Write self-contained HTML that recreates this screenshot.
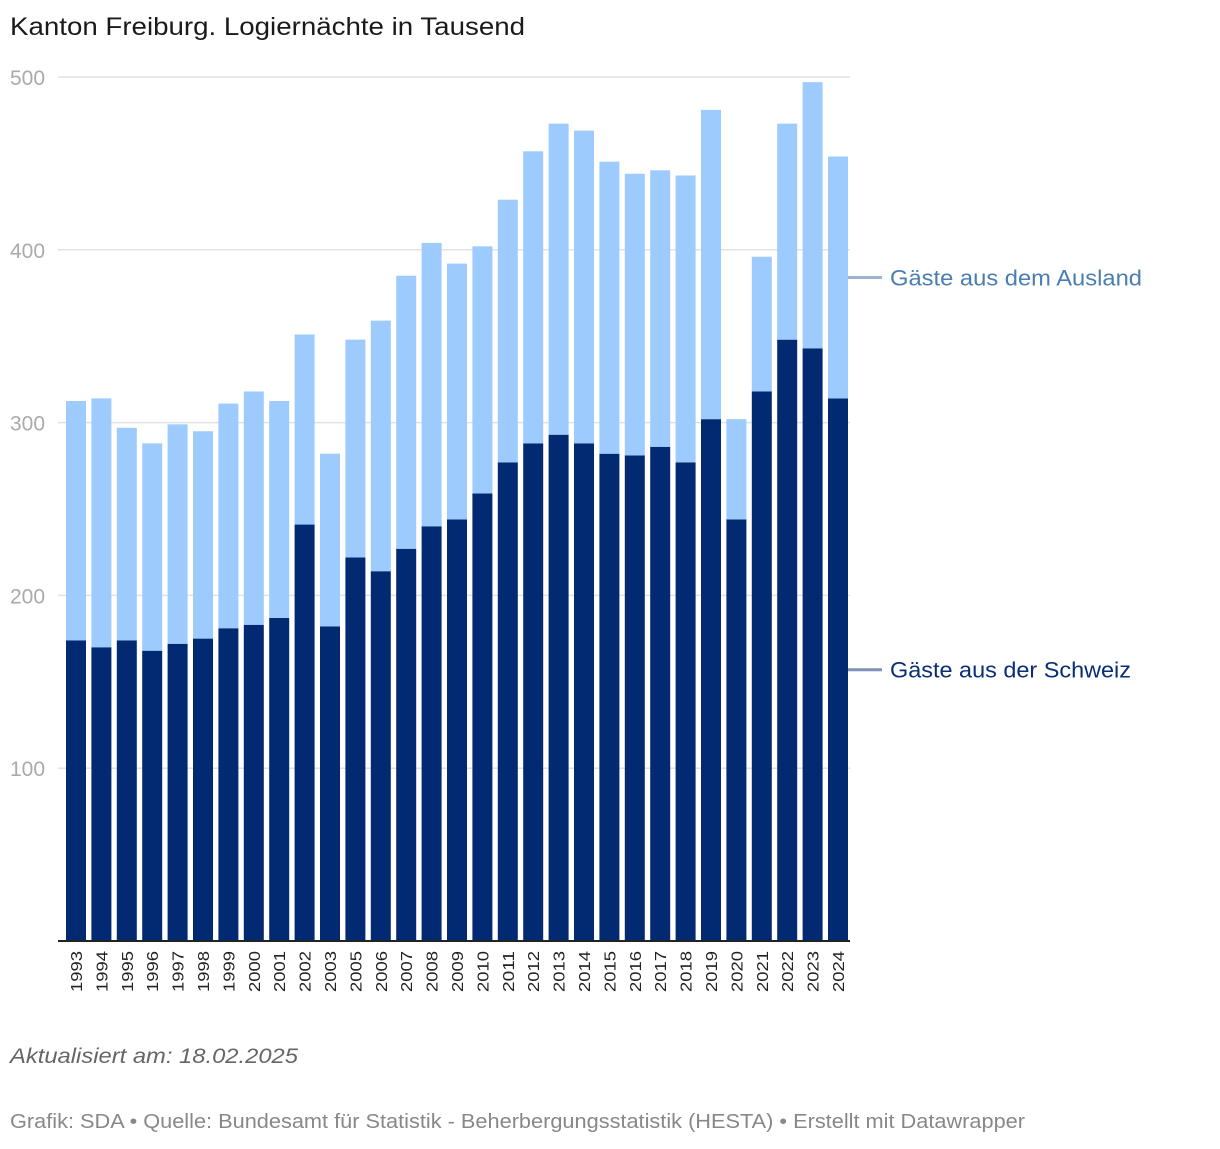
<!DOCTYPE html>
<html><head><meta charset="utf-8"><style>
body{margin:0;background:#fff;font-family:"Liberation Sans",sans-serif;}
svg text{font-family:"Liberation Sans",sans-serif;}
</style></head><body>
<svg id="c" width="1220" height="1144">
<text x="10" y="35" font-size="25" fill="#1a1a1a" textLength="515" lengthAdjust="spacingAndGlyphs">Kanton Freiburg. Logiernächte in Tausend</text>
<g id="grid"></g><g id="bars"></g><g id="xl"></g>
<text x="10" y="1063" font-size="21" font-style="italic" fill="#666" textLength="288" lengthAdjust="spacingAndGlyphs">Aktualisiert am: 18.02.2025</text>
<text x="10" y="1128" font-size="20" fill="#888" textLength="1015" lengthAdjust="spacingAndGlyphs">Grafik: SDA • Quelle: Bundesamt für Statistik - Beherbergungsstatistik (HESTA) • Erstellt mit Datawrapper</text>
</svg>
<script>
const years=["1993","1994","1995","1996","1997","1998","1999","2000","2001","2002","2003","2005","2006","2007","2008","2009","2010","2011","2012","2013","2014","2015","2016","2017","2018","2019","2020","2021","2022","2023","2024"];
const schweiz=[174,170,174,168,172,175,181,183,187,241,182,222,214,227,240,244,259,277,288,293,288,282,281,286,277,302,244,318,348,343,314];
const ausland=[138.5,144,123,120,127,120,130,135,125.5,110,100,126,145,158,164,148,143,152,169,180,181,169,163,160,166,179,58,78,125,154,140];
const yTicks=[100,200,300,400,500];
const svg=document.getElementById('c'),NS="http://www.w3.org/2000/svg";
const y=v=>941-v*1.728, x0=66, pitch=25.4, bw=20;
function mk(t,a,p){const e=document.createElementNS(NS,t);for(const k in a)e.setAttribute(k,a[k]);(p||svg).appendChild(e);return e;}
const G=document.getElementById('grid'),B=document.getElementById('bars'),XL=document.getElementById('xl');
yTicks.forEach(v=>{
 const l=mk('line',{x1:58,x2:850,y1:y(v),y2:y(v),stroke:'#e2e2e2','stroke-width':1.5},G);
 
 
 const t=mk('text',{x:10,y:y(v)+8,'font-size':21,fill:'#aaa'},G);t.textContent=v;
 
 
});
years.forEach((yr,i)=>{
 const x=x0+i*pitch;
 const r1=mk('rect',{x:x,y:y(schweiz[i]),width:bw,height:941-y(schweiz[i]),fill:'#022a72'},B);
 
 
 const tot=schweiz[i]+ausland[i];
 const r2=mk('rect',{x:x,y:y(tot),width:bw,height:y(schweiz[i])-y(tot),fill:'#9dcbfe'},B);
 
 
 const t=mk('text',{x:0,y:0,'font-size':16,fill:'#222','text-anchor':'end',textLength:41,lengthAdjust:'spacingAndGlyphs',transform:`translate(${x+bw/2+6},951) rotate(-90)`},XL);
 t.textContent=yr;
 
 
});
const ax=mk('line',{x1:58,x2:850,y1:941,y2:941,stroke:'#222','stroke-width':2});


const li=years.length-1, lx=x0+li*pitch+bw;
const midA=(y(schweiz[li]+ausland[li])+y(schweiz[li]))/2, midS=(y(schweiz[li])+941)/2;
[[midA,'Gäste aus dem Ausland','#4a7db2','#9ab4d4','legend-ausland',252],[midS,'Gäste aus der Schweiz','#0a2d78','#7d92b6','legend-schweiz',241]].forEach(([yy,txt,c,lc,n,w])=>{
 const l=mk('line',{x1:lx,x2:lx+34,y1:yy,y2:yy,stroke:lc,'stroke-width':3});
 
 
 const t=mk('text',{x:lx+42,y:yy+8,'font-size':22,fill:c,textLength:w,lengthAdjust:'spacingAndGlyphs'});t.textContent=txt;
 
 
});
</script>
</body></html>
